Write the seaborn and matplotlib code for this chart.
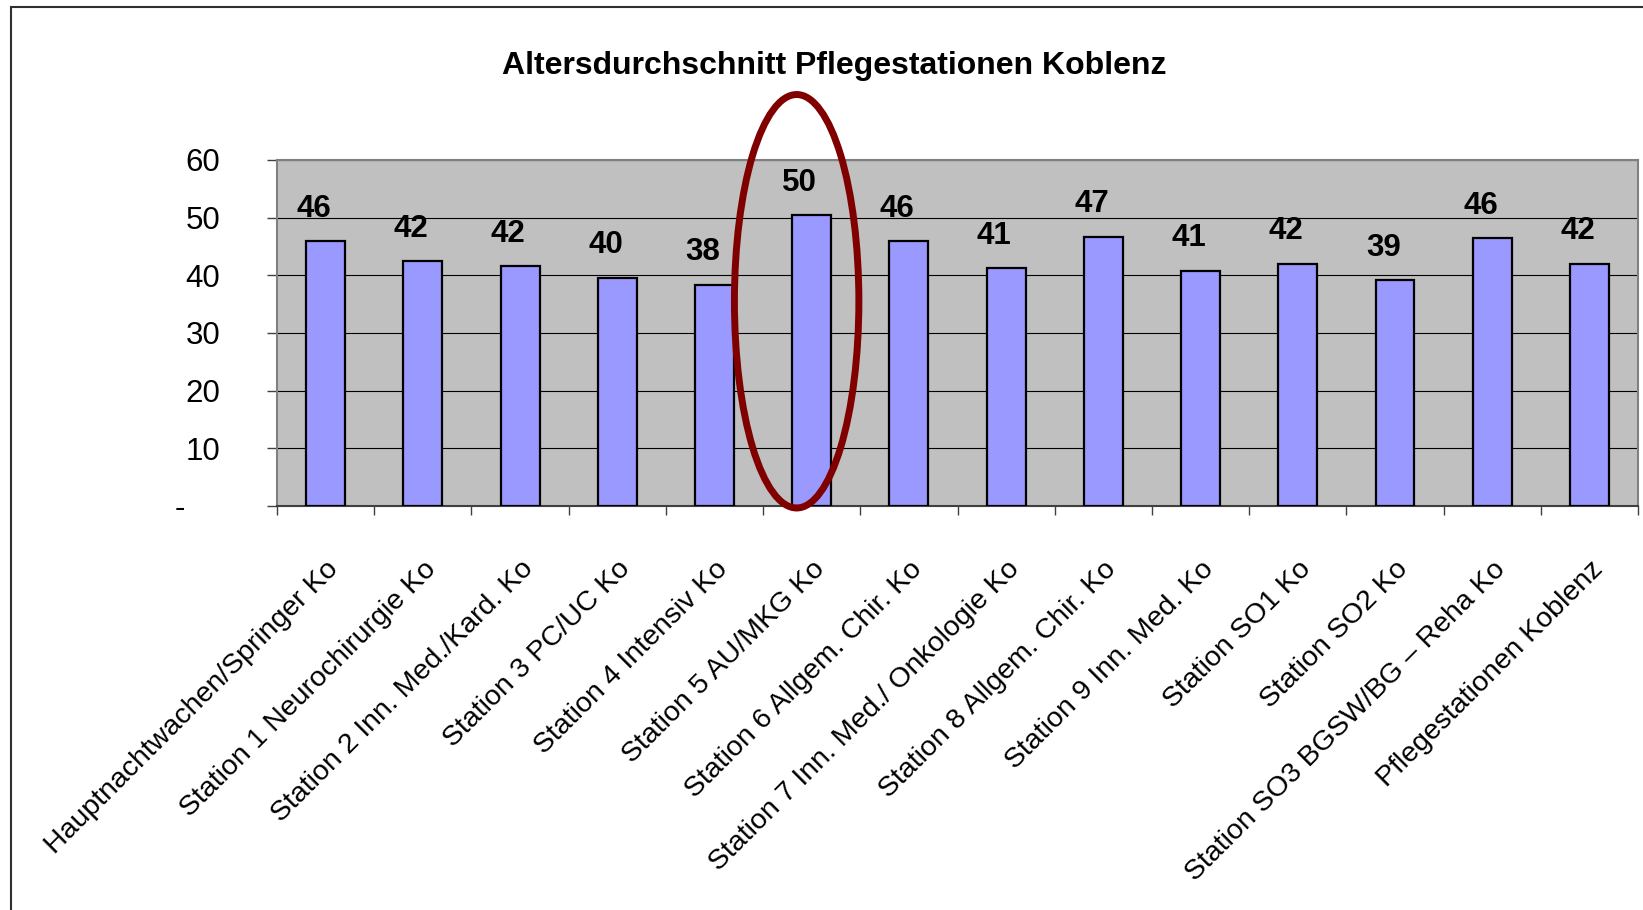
import matplotlib
matplotlib.use("Agg")
import matplotlib.pyplot as plt
from matplotlib.patches import Ellipse, Rectangle
import seaborn as sns

stations = [
    "Hauptnachtwachen/Springer Ko",
    "Station 1 Neurochirurgie Ko",
    "Station 2 Inn. Med./Kard. Ko",
    "Station 3 PC/UC Ko",
    "Station 4 Intensiv Ko",
    "Station 5 AU/MKG Ko",
    "Station 6 Allgem. Chir. Ko",
    "Station 7 Inn. Med./ Onkologie Ko",
    "Station 8 Allgem. Chir. Ko",
    "Station 9 Inn. Med. Ko",
    "Station SO1 Ko",
    "Station SO2 Ko",
    "Station SO3 BGSW/BG \u2013 Reha Ko",
    "Pflegestationen Koblenz",
]
avg_age = [45.9, 42.4, 41.6, 39.6, 38.4, 50.4, 45.9, 41.3, 46.7, 40.8, 42.0, 39.2, 46.4, 42.0]
y_ticks = [0, 10, 20, 30, 40, 50, 60]
y_tick_labels = ["-    ", "10", "20", "30", "40", "50", "60"]
title = "Altersdurchschnitt Pflegestationen Koblenz"

sns.set_theme(style="white", rc={"text.color": "black", "xtick.color": "black",
                                 "ytick.color": "black", "axes.labelcolor": "black"})
plt.rcParams["font.family"] = ["Liberation Sans", "DejaVu Sans"]

fig = plt.figure(figsize=(16.43, 9.10), dpi=100)
ax = fig.add_axes([0.1686, 0.4440, 0.8284, 0.3802])
ax.set_facecolor("#C0C0C0")

sns.barplot(x=stations, y=avg_age, color="#9999FF", saturation=1,
            edgecolor="black", linewidth=1.6, width=0.4, ax=ax, zorder=3)

# value labels above the bars
for i, v in enumerate(avg_age):
    ax.annotate(f"{v:.0f}", (i, v), xytext=(-8.5, 17.5), textcoords="offset points",
                ha="center", va="baseline", fontsize=22.5, fontweight="bold", color="black")

ax.set_xlim(-0.5, len(stations) - 0.5)
ax.set_ylim(0, 60)
ax.set_yticks(y_ticks)
ax.set_yticklabels(y_tick_labels, fontsize=22.5)
ax.tick_params(axis="y", direction="out", length=7, width=1, color="#404040",
               labelcolor="black", pad=34, left=True)
ax.yaxis.grid(True, color="black", linewidth=0.8, zorder=1)
ax.set_axisbelow(True)

# category labels at centers, tick marks between categories
ax.set_xticks(range(len(stations)))
ax.set_xticklabels(stations, rotation=45, ha="right", va="top", rotation_mode="anchor", fontsize=20.5)
ax.tick_params(axis="x", which="major", length=0, pad=36, labelcolor="black")
ax.set_xticks([i - 0.5 for i in range(len(stations) + 1)], minor=True)
ax.tick_params(axis="x", which="minor", direction="out", length=6.5, width=1, color="#404040", bottom=True)
ax.set_xlabel("")

for side in ["top", "left", "right"]:
    ax.spines[side].set_color("#808080")
    ax.spines[side].set_linewidth(1.5)
ax.spines["bottom"].set_color("#404040")
ax.spines["bottom"].set_linewidth(1.5)

# highlight ring round Station 5
ring = Ellipse((4.845, 35.5), width=1.28, height=71.7, fill=False,
               edgecolor="#800000", linewidth=5, clip_on=False, zorder=5)
ax.add_patch(ring)

fig.text(0.508, 0.919, title, ha="center", va="baseline", fontsize=23,
         fontweight="bold", color="black")

# chart area border
fig.patches.append(Rectangle((11 / 1643, -0.1), 1.2, 1.1 - 7 / 910, fill=False,
                             edgecolor="#303030", linewidth=1.5, transform=fig.transFigure))

fig.savefig("out.png", dpi=100)
